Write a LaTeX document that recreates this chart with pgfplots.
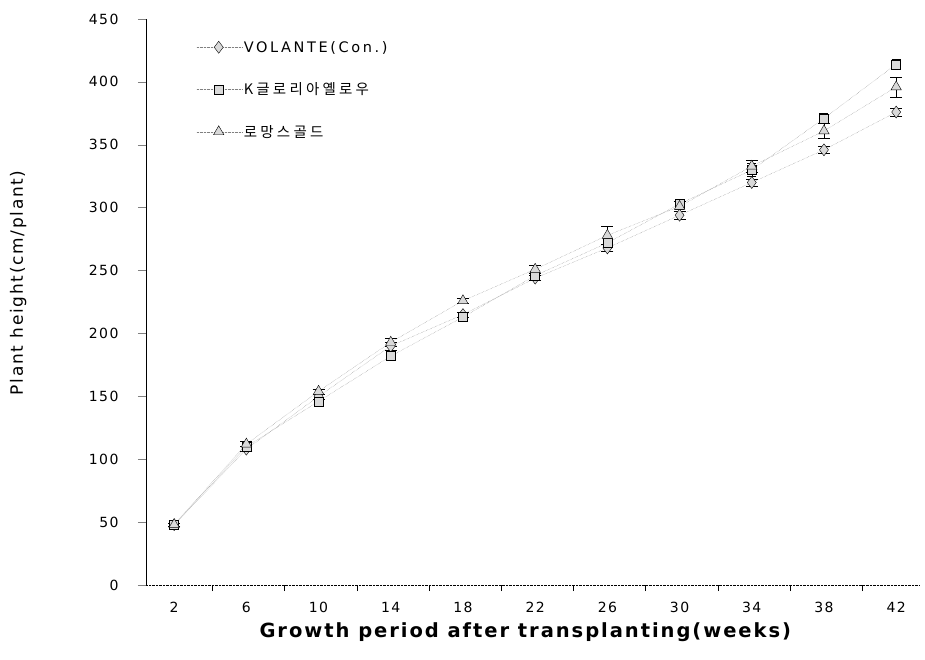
\documentclass[border=0pt]{standalone}
\usepackage{pgfplots}
\pgfplotsset{compat=1.18}
\usepackage{fontspec}
\setmainfont{DejaVu Sans}[LetterSpace=10]
\newfontfamily\kr{Noto Sans CJK KR}[LetterSpace=22]
\newfontfamily\leg{DejaVu Sans}[LetterSpace=18]
\pgfplotsset{myline/.style={densely dotted, gray, mark size=6pt, mark options={solid, draw=black, fill=gray!30},
  error bars/y dir=both, error bars/y explicit, error bars/error bar style={solid, black}}}
\begin{document}
\begin{tikzpicture}
\begin{axis}[
  width=774pt, height=566pt, scale only axis,
  xmin=-0.39, xmax=10.33, ymin=0, ymax=450,
  xtick={0,...,10}, xticklabels={2,6,10,14,18,22,26,30,34,38,42},
  minor xtick={0.53,1.53,...,9.53},
  ytick={0,50,...,450},
  axis x line*=bottom, axis y line*=left,
  x axis line style={densely dotted,-},
  y axis line style={-, line width=0.8pt},
  major x tick style={draw=none},
  minor x tick style={black, thin},
  minor tick length=6pt,
  xtick align=outside, ytick align=outside,
  ytick style={gray, thin},
  major tick length=8pt,
  yticklabel style={xshift=-16pt},
  xticklabel style={yshift=-6pt},
  tick label style={font=\fontsize{14}{16}\selectfont},
  /pgf/number format/assume math mode=true,
  xlabel={\fontsize{19.5}{22}\selectfont\bfseries Growth period after transplanting(weeks)},
  ylabel={\fontsize{17}{19}\selectfont Plant height(cm/plant)},
  xlabel style={at={(axis description cs:0.49,-0.083)}, anchor=center},
  ylabel style={at={(axis description cs:-0.165,0.534)}, anchor=center},
  legend style={draw=none, at={(0.065,0.965)}, anchor=north west, font=\leg\fontsize{14.5}{16}\selectfont, row sep=25pt, fill=none, inner sep=0pt},
  legend cell align=left,
  legend image code/.code={\draw[#1] (0pt,0pt) -- (45pt,0pt); \draw[#1, mark repeat=2, mark phase=2] plot coordinates {(0pt,0pt) (22pt,0pt) (45pt,0pt)};},
]
\addplot[myline, mark=diamond*] coordinates {(0,48) +- (0,1) (1,108) +- (0,2) (2,150) +- (0,2) (3,190) +- (0,3) (4,215) +- (0,2) (5,244) +- (0,2) (6,268) +- (0,3) (7,294) +- (0,3) (8,320) +- (0,3) (9,346) +- (0,3) (10,376) +- (0,3)};
\addlegendentry{VOLANTE(Con.)}
\addplot[myline, mark=square*, mark size=4.5pt] coordinates {(0,48) +- (0,1) (1,110) +- (0,2) (2,146) +- (0,2) (3,182) +- (0,3) (4,213) +- (0,2) (5,246) +- (0,3) (6,272) +- (0,3) (7,303) +- (0,4) (8,330) +- (0,5) (9,371) +- (0,4) (10,414) +- (0,4)};
\addlegendentry{\kr K글로리아옐로우}
\addplot[myline, mark=triangle*] coordinates {(0,48) +- (0,1) (1,112) +- (0,2) (2,154) +- (0,2) (3,193) +- (0,3) (4,226) +- (0,2) (5,251) +- (0,3) (6,278) +- (0,7) (7,301) +- (0,4) (8,333) +- (0,5) (9,361) +- (0,6) (10,396) +- (0,8)};
\addlegendentry{\kr 로망스골드}
\end{axis}
\path (-146pt,-74pt) rectangle (779pt,585pt);
\end{tikzpicture}
\end{document}
